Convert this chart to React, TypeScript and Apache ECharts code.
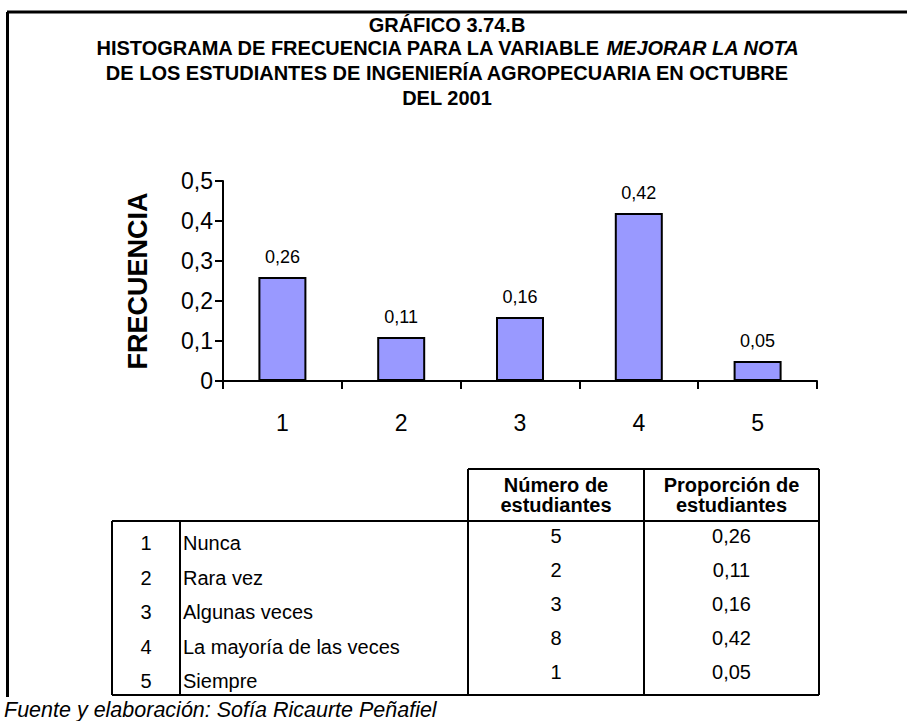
import React, { useEffect, useRef } from "react";
import * as echarts from "echarts";

const categories = ["1", "2", "3", "4", "5"];
const proportions = [0.26, 0.11, 0.16, 0.42, 0.05];
const counts = [5, 2, 3, 8, 1];
const responses = ["Nunca", "Rara vez", "Algunas veces", "La mayoría de las veces", "Siempre"];
const titleLines = [
  "GRÁFICO 3.74.B",
  "HISTOGRAMA DE FRECUENCIA PARA LA VARIABLE ",
  "MEJORAR LA NOTA",
  "DE LOS ESTUDIANTES DE INGENIERÍA AGROPECUARIA EN OCTUBRE",
  "DEL 2001",
];
const headerCount = ["Número de", "estudiantes"];
const headerProp = ["Proporción de", "estudiantes"];
const footer = "Fuente y elaboración: Sofía Ricaurte Peñafiel";
const yAxisName = "FRECUENCIA";

const FONT = "'Liberation Sans', Arial, sans-serif";
const fmt = (v: number) => (v === 0 ? "0" : String(Math.round(v * 100) / 100).replace(".", ","));

export default function App() {
  const ref = useRef<HTMLDivElement>(null);
  useEffect(() => {
    if (!ref.current) return;
    const chart = echarts.init(ref.current, null, { renderer: "svg" });

    const black = "#000";
    const tL = 112, c1 = 180, c2 = 468, c3 = 644, tR = 819;
    const hTop = 469, bTop = 521, bBot = 695;
    const lw = 2;
    const line = (x1: number, y1: number, x2: number, y2: number, w = lw) => ({
      type: "line",
      shape: { x1, y1, x2, y2 },
      style: { stroke: black, lineWidth: w },
      silent: true,
    });
    const text = (x: number, y: number, t: string, opts: any = {}) => ({
      type: "text",
      x,
      y,
      style: {
        text: t,
        fill: black,
        font: opts.font || `20px ${FONT}`,
        align: opts.align || "left",
        verticalAlign: "middle",
      },
      silent: true,
    });

    const graphics: any[] = [];
    // frame
    graphics.push(line(7, 12, 907, 12, 3));
    graphics.push(line(7.5, 12, 7.5, 697, 3));
    // titles
    const tx = 447;
    graphics.push(text(tx, 25, titleLines[0], { font: `bold 20px ${FONT}`, align: "center" }));
    graphics.push({
      type: "text",
      x: tx,
      y: 48,
      style: {
        text: `{b|${titleLines[1]}}{i|${titleLines[2]}}`,
        align: "center",
        verticalAlign: "middle",
        rich: {
          b: { font: `bold 20px ${FONT}`, fill: black },
          i: { font: `italic bold 20px ${FONT}`, fill: black },
        },
      },
      silent: true,
    });
    graphics.push(text(tx, 73, titleLines[3], { font: `bold 20px ${FONT}`, align: "center" }));
    graphics.push(text(tx, 98, titleLines[4], { font: `bold 20px ${FONT}`, align: "center" }));

    // table lines
    graphics.push(line(c2, hTop, tR, hTop));
    graphics.push(line(c2, hTop, c2, bBot));
    graphics.push(line(c3, hTop, c3, bBot));
    graphics.push(line(tR, hTop, tR, bBot));
    graphics.push(line(tL, bTop, tR, bTop));
    graphics.push(line(tL, bTop, tL, bBot));
    graphics.push(line(c1, bTop, c1, bBot));
    graphics.push(line(tL, bBot, tR, bBot));
    // headers
    const mid2 = (c2 + c3) / 2, mid3 = (c3 + tR) / 2;
    headerCount.forEach((h, i) =>
      graphics.push(text(mid2, 485 + i * 20, h, { font: `bold 20px ${FONT}`, align: "center" }))
    );
    headerProp.forEach((h, i) =>
      graphics.push(text(mid3, 485 + i * 20, h, { font: `bold 20px ${FONT}`, align: "center" }))
    );
    // rows
    categories.forEach((c, i) => {
      const yL = 543 + i * 34.5;
      const yR = 536 + i * 34;
      graphics.push(text((tL + c1) / 2, yL, c, { align: "center" }));
      graphics.push(text(c1 + 3, yL, responses[i]));
      graphics.push(text(mid2, yR, String(counts[i]), { align: "center" }));
      graphics.push(text(mid3, yR, fmt(proportions[i]), { align: "center" }));
    });
    // footer
    graphics.push(text(4, 710, footer, { font: `italic 21.5px ${FONT}` }));

    chart.setOption({
      animation: false,
      backgroundColor: "#fff",
      textStyle: { fontFamily: FONT },
      grid: { left: 223, top: 181, width: 594, height: 200 },
      xAxis: {
        type: "category",
        data: categories,
        boundaryGap: true,
        axisLine: { lineStyle: { color: black, width: 2 } },
        axisTick: { show: true, length: 8, lineStyle: { color: black, width: 2 } },
        axisLabel: { color: black, fontSize: 23, margin: 30, fontFamily: FONT },
      },
      yAxis: {
        type: "value",
        min: 0,
        max: 0.5,
        interval: 0.1,
        name: yAxisName,
        nameLocation: "middle",
        nameRotate: 90,
        nameGap: 72,
        nameTextStyle: { fontSize: 27, fontWeight: "bold", color: black, fontFamily: FONT },
        splitLine: { show: false },
        axisLine: { show: true, lineStyle: { color: black, width: 2 } },
        axisTick: { show: true, length: 8, lineStyle: { color: black, width: 2 } },
        axisLabel: { color: black, fontSize: 23, margin: 10, fontFamily: FONT, formatter: (v: number) => fmt(v) },
      },
      series: [
        {
          type: "bar",
          data: proportions,
          barWidth: 48,
          itemStyle: { color: "#9999FF", borderColor: black, borderWidth: 2 },
          label: {
            show: true,
            position: "top",
            distance: 11,
            color: black,
            fontSize: 18,
            fontFamily: FONT,
            formatter: (p: any) => fmt(p.value),
          },
        },
      ],
      graphic: graphics,
    });
    return () => chart.dispose();
  }, []);
  return <div ref={ref} style={{ position: "fixed", left: 0, top: 0, width: 907, height: 721 }} />;
}
